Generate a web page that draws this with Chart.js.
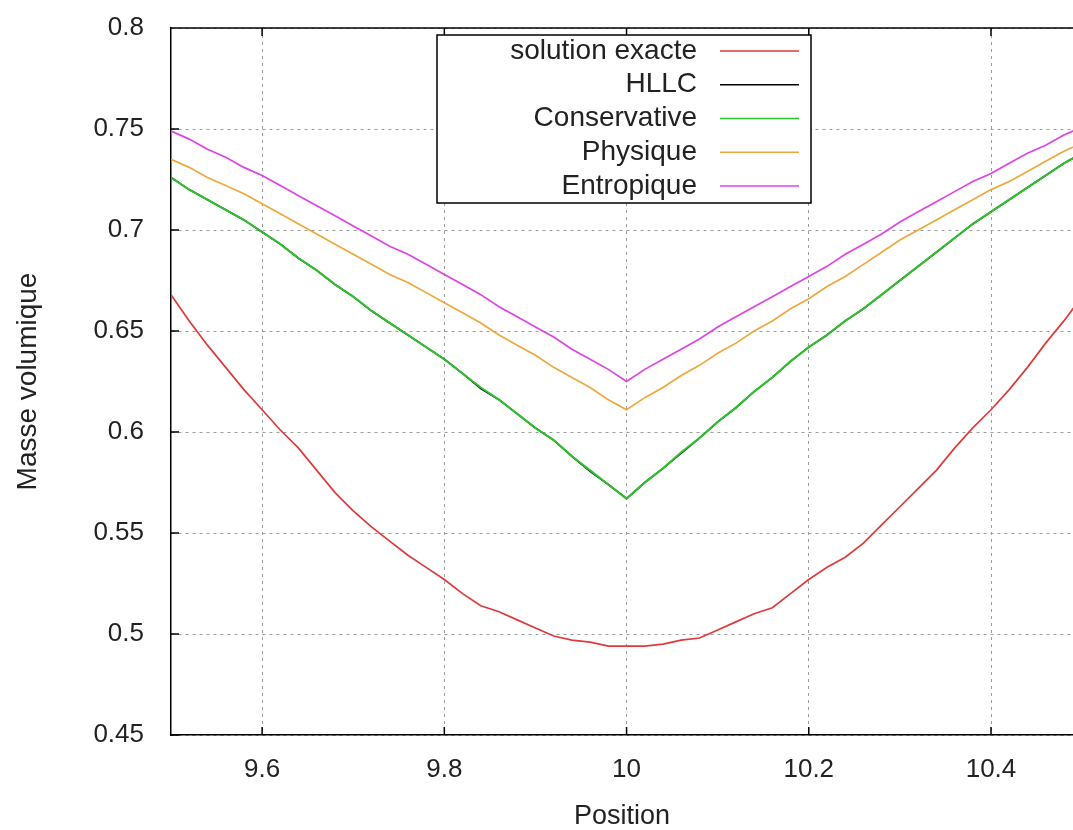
<!DOCTYPE html>
<html>
<head>
<meta charset="utf-8">
<script src="https://cdn.jsdelivr.net/npm/chart.js@4.4.0/dist/chart.umd.min.js"></script>
<style>
html, body { margin: 0; padding: 0; background: #fff; overflow: hidden; }
#wrap { width: 1073px; height: 830px; position: relative; }
</style>
</head>
<body>
<div id="wrap"><canvas id="lineChart"></canvas></div>
<script>
// positions (x) and density values
var positions = [9.50, 9.52, 9.54, 9.56, 9.58, 9.60, 9.62, 9.64, 9.66, 9.68,
	9.70, 9.72, 9.74, 9.76, 9.78, 9.80, 9.82, 9.84, 9.86, 9.88,
	9.90, 9.92, 9.94, 9.96, 9.98, 10.00, 10.02, 10.04, 10.06, 10.08,
	10.10, 10.12, 10.14, 10.16, 10.18, 10.20, 10.22, 10.24, 10.26, 10.28,
	10.30, 10.32, 10.34, 10.36, 10.38, 10.40, 10.42, 10.44, 10.46, 10.48, 10.50];

var exacte = [0.668, 0.655, 0.643, 0.632, 0.621, 0.611, 0.601, 0.592, 0.581, 0.570,
	0.561, 0.553, 0.546, 0.539, 0.533, 0.527, 0.520, 0.514, 0.511, 0.507,
	0.503, 0.499, 0.497, 0.496, 0.494, 0.494, 0.494, 0.495, 0.497, 0.498,
	0.502, 0.506, 0.510, 0.513, 0.520, 0.527, 0.533, 0.538, 0.545, 0.554,
	0.563, 0.572, 0.581, 0.592, 0.602, 0.611, 0.621, 0.632, 0.644, 0.655, 0.667];

var hllc = [0.726, 0.720, 0.715, 0.710, 0.705, 0.699, 0.693, 0.686, 0.680, 0.673,
	0.667, 0.660, 0.654, 0.648, 0.642, 0.636, 0.629, 0.6215, 0.616, 0.609,
	0.602, 0.596, 0.588, 0.5805, 0.574, 0.567, 0.575, 0.582, 0.5895, 0.597,
	0.605, 0.612, 0.620, 0.627, 0.635, 0.642, 0.648, 0.655, 0.661, 0.668,
	0.675, 0.682, 0.689, 0.696, 0.703, 0.709, 0.715, 0.721, 0.727, 0.733, 0.738];

var conservative = [0.726, 0.720, 0.715, 0.710, 0.705, 0.699, 0.693, 0.686, 0.680, 0.673,
	0.667, 0.660, 0.654, 0.648, 0.642, 0.636, 0.629, 0.622, 0.616, 0.609,
	0.602, 0.596, 0.588, 0.581, 0.574, 0.567, 0.575, 0.582, 0.590, 0.597,
	0.605, 0.612, 0.620, 0.627, 0.635, 0.642, 0.648, 0.655, 0.661, 0.668,
	0.675, 0.682, 0.689, 0.696, 0.703, 0.709, 0.715, 0.721, 0.727, 0.733, 0.738];

var physique = [0.735, 0.731, 0.726, 0.722, 0.718, 0.713, 0.708, 0.703, 0.698, 0.693,
	0.688, 0.683, 0.678, 0.674, 0.669, 0.664, 0.659, 0.654, 0.648, 0.643,
	0.638, 0.632, 0.627, 0.622, 0.616, 0.611, 0.617, 0.622, 0.628, 0.633,
	0.639, 0.644, 0.650, 0.655, 0.661, 0.666, 0.672, 0.677, 0.683, 0.689,
	0.695, 0.700, 0.705, 0.710, 0.715, 0.720, 0.724, 0.729, 0.734, 0.739, 0.743];

var entropique = [0.749, 0.745, 0.740, 0.736, 0.731, 0.727, 0.722, 0.717, 0.712, 0.707,
	0.702, 0.697, 0.692, 0.688, 0.683, 0.678, 0.673, 0.668, 0.662, 0.657,
	0.652, 0.647, 0.641, 0.636, 0.631, 0.625, 0.631, 0.636, 0.641, 0.646,
	0.652, 0.657, 0.662, 0.667, 0.672, 0.677, 0.682, 0.688, 0.693, 0.698,
	0.704, 0.709, 0.714, 0.719, 0.724, 0.728, 0.733, 0.738, 0.742, 0.747, 0.751];

var seriesNames = ['solution exacte', 'HLLC', 'Conservative', 'Physique', 'Entropique'];
var seriesColors = ['#dd3b3b', '#000000', '#2ec42e', '#eea83c', '#dd44e4'];

var textFont = 'Liberation Sans, Arial, sans-serif';
var textColor = '#222';

function toPoints(values) {
	return values.map(function (v, i) { return { x: positions[i], y: v }; });
}

function fmt(v) {
	return String(parseFloat(v.toFixed(3)));
}

// gnuplot style frame: top border + inward tick marks, and boxed key
var gnuFrame = {
	id: 'gnuFrame',
	beforeDatasetsDraw: function (chart) {
		var ctx = chart.ctx, area = chart.chartArea;
		var xs = chart.scales.x, ys = chart.scales.y;
		ctx.save();
		ctx.strokeStyle = '#000';
		ctx.lineWidth = 1.5;
		ctx.beginPath();
		ctx.moveTo(area.left, area.top);
		ctx.lineTo(area.right, area.top);
		xs.ticks.forEach(function (t) {
			var px = xs.getPixelForValue(t.value);
			ctx.moveTo(px, area.bottom); ctx.lineTo(px, area.bottom - 8);
			ctx.moveTo(px, area.top); ctx.lineTo(px, area.top + 8);
		});
		ys.ticks.forEach(function (t) {
			var py = ys.getPixelForValue(t.value);
			ctx.moveTo(area.left, py); ctx.lineTo(area.left + 8, py);
		});
		ctx.stroke();
		ctx.restore();
	},
	afterDatasetsDraw: function (chart) {
		var ctx = chart.ctx, area = chart.chartArea;
		var boxL = area.left + 266, boxT = area.top + 7, boxW = 374, boxH = 168;
		var rowH = 33.75, textRight = area.left + 526, lineL = area.left + 549, lineR = area.left + 628;
		ctx.save();
		ctx.fillStyle = '#fff';
		ctx.fillRect(boxL, boxT, boxW, boxH);
		ctx.strokeStyle = '#000';
		ctx.lineWidth = 1.5;
		ctx.strokeRect(boxL, boxT, boxW, boxH);
		ctx.font = '28px ' + textFont;
		ctx.textAlign = 'right';
		ctx.textBaseline = 'middle';
		chart.data.datasets.forEach(function (ds, i) {
			var y = boxT + 16 + i * rowH;
			ctx.fillStyle = textColor;
			ctx.fillText(ds.label, textRight, y);
			ctx.strokeStyle = ds.borderColor;
			ctx.lineWidth = 1.5;
			ctx.beginPath();
			ctx.moveTo(lineL, y);
			ctx.lineTo(lineR, y);
			ctx.stroke();
		});
		ctx.restore();
	}
};

var seriesValues = [exacte, hllc, conservative, physique, entropique];

var ctx = document.getElementById('lineChart').getContext('2d');
var myLineChart = new Chart(ctx, {
	type: 'line',
	data: {
		datasets: seriesNames.map(function (name, i) {
			return {
				label: name,
				data: toPoints(seriesValues[i]),
				borderColor: seriesColors[i],
				borderWidth: i === 2 ? 2 : 1.7,
				pointRadius: 0,
				tension: 0,
				fill: false,
				order: i === 1 ? 1 : 0
			};
		})
	},
	options: {
		responsive: true,
		maintainAspectRatio: false,
		devicePixelRatio: 1,
		animation: false,
		layout: { padding: { top: 28, left: 0, right: 0, bottom: 0 } },
		plugins: {
			legend: { display: false },
			tooltip: { enabled: false }
		},
		scales: {
			x: {
				type: 'linear',
				min: 9.5,
				max: 10.49,
				afterFit: function (s) { s.height = 95; s.paddingLeft = 0; s.paddingRight = 0; },
				ticks: {
					stepSize: 0.2,
					includeBounds: false,
					padding: 19,
					color: textColor,
					font: { family: textFont, size: 26 },
					callback: function (v) { return fmt(v); }
				},
				grid: { color: '#9c9c9c', lineWidth: 1, drawTicks: false },
				border: { display: true, color: '#000', width: 1.5, dash: [3, 4] },
				title: {
					display: true,
					text: 'Position',
					color: textColor,
					font: { family: textFont, size: 27 },
					padding: { top: 0, bottom: -3 }
				}
			},
			y: {
				type: 'linear',
				min: 0.45,
				max: 0.8,
				afterFit: function (s) { s.width = 171; s.paddingTop = 0; s.paddingBottom = 0; },
				ticks: {
					stepSize: 0.05,
					padding: 27,
					color: textColor,
					font: { family: textFont, size: 26 },
					callback: function (v) { return fmt(v); }
				},
				grid: { color: '#9c9c9c', lineWidth: 1, drawTicks: false },
				border: { display: true, color: '#000', width: 1.5, dash: [3, 4] },
				title: {
					display: true,
					text: 'Masse volumique',
					color: textColor,
					font: { family: textFont, size: 28 },
					padding: { top: 11, bottom: 0 }
				}
			}
		}
	},
	plugins: [gnuFrame]
});
</script>
</body>
</html>
